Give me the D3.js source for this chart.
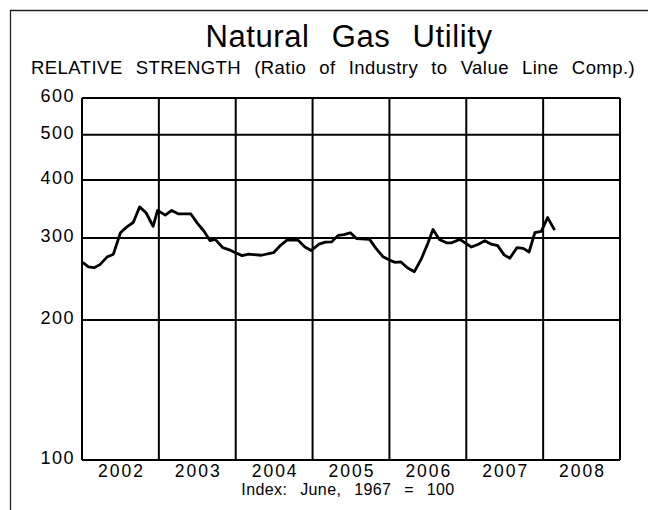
<!DOCTYPE html>
<html><head><meta charset="utf-8">
<script src="https://cdn.jsdelivr.net/npm/d3@7"></script>
<style>body{margin:0;background:#fff}svg{display:block}text{font-family:"Liberation Sans",Arial,sans-serif;fill:#000}</style>
</head><body>
<script>
const title = "Natural Gas Utility";
const subtitle = "RELATIVE STRENGTH (Ratio of Industry to Value Line Comp.)";
const footnote = "Index: June, 1967 = 100";
const yTicks = [100, 200, 300, 400, 500, 600];
const yearLabels = [2002, 2003, 2004, 2005, 2006, 2007, 2008];
// months after Jan 2002
const monthOffsets = [0.1,1,1.9,2.8,3.9,4.9,6,7,8,9,10,11.1,11.8,13,14,15.1,17,18,19,20,20.8,22,23,23.7,25,26,28,29.9,30.9,32,33.7,34.8,35.8,37,38,39,40,40.9,41.9,42.9,44.9,45.9,47,48,48.9,49.8,50.8,51.9,53,53.9,54.8,55.8,56.9,57.7,59,59.8,60.8,61.9,62.9,63.9,64.9,65.9,66.8,67.9,68.9,69.8,70.7,71.7,72.7,73.8];
const values = [266,260,259,263,273,277,308,317,324,350,340,318,344,336,344,338,338,323,311,296,298,286,283,280,275,277,275.5,279,288.5,297,297,287,282,291,294,294.5,304,305,308,299,298,285,273.5,269,266,266.5,259,254,271,290,313,298,293,293,298,293,287,291,296,291,289,276,271.5,286,285,280,308,310,332,312];

const W = 648, H = 510;
const m = {left: 82, right: 28, top: 98, bottom: 50};
const svg = d3.select("body").append("svg").attr("width", W).attr("height", H);

svg.append("path").attr("d", `M10.5,${H} L10.5,10.5 L${W},10.5`).attr("fill","none").attr("stroke","#222").attr("stroke-width",1.3);

const x = d3.scaleLinear().domain([2002, 2009]).range([m.left, W - m.right]);
const y = d3.scaleLog().domain([100, 600]).range([H - m.bottom, m.top]);

const g = svg.append("g");
g.selectAll("line.h").data(yTicks).join("line")
  .attr("x1", x(2002)).attr("x2", x(2009))
  .attr("y1", d => y(d)).attr("y2", d => y(d))
  .attr("stroke","#000").attr("stroke-width",2);
g.selectAll("line.v").data(d3.range(2002, 2010)).join("line")
  .attr("x1", d => x(d)).attr("x2", d => x(d))
  .attr("y1", y(100)).attr("y2", y(600))
  .attr("stroke","#000").attr("stroke-width",2);

svg.selectAll("text.yl").data(yTicks).join("text")
  .attr("x", 75).attr("y", d => y(d) + 4)
  .attr("text-anchor","end").attr("font-size",18).attr("letter-spacing",1.5)
  .text(d => d);

svg.selectAll("text.xl").data(yearLabels).join("text")
  .attr("x", d => x(d + 0.5) + 1).attr("y", H - m.bottom + 17)
  .attr("text-anchor","middle").attr("font-size",17.5).attr("letter-spacing",2)
  .text(d => d);

const data = monthOffsets.map((mo, i) => ({t: 2002 + mo / 12, v: values[i]}));
svg.append("path").datum(data)
  .attr("fill","none").attr("stroke","#000").attr("stroke-width",2.8).attr("stroke-linejoin","round")
  .attr("d", d3.line().x(d => x(d.t)).y(d => y(d.v)));

svg.append("text").attr("x", 349).attr("y", 47).attr("text-anchor","middle")
  .attr("font-size",31).attr("letter-spacing",0.6).attr("word-spacing",13).text(title);
svg.append("text").attr("x", 31).attr("y", 74)
  .attr("font-size",18.5).attr("letter-spacing",0.45).attr("word-spacing",7.5).text(subtitle);
svg.append("text").attr("x", 348).attr("y", 495).attr("text-anchor","middle")
  .attr("font-size",16).attr("letter-spacing",0.4).attr("word-spacing",8).text(footnote);
</script>
</body></html>
